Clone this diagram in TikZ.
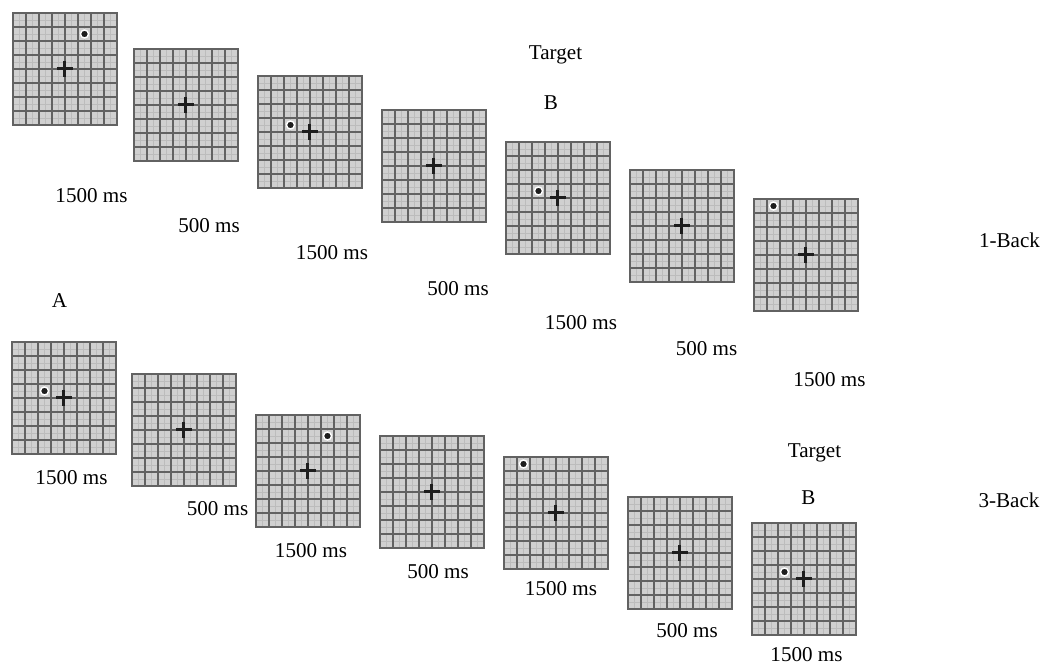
\documentclass[tikz,border=0pt]{standalone}
\usepackage{fontspec}
\setmainfont{Liberation Serif}
\usepackage{tikz}
\definecolor{clrPanel}{RGB}{208,208,208}
\definecolor{clrGrid}{RGB}{98,98,98}
\definecolor{clrGridLight}{RGB}{188,188,188}
\definecolor{clrMark}{RGB}{30,30,30}
\tikzset{
  gridminor/.style={draw=clrGridLight,line width=0.02cm},
  gridmajor/.style={draw=clrGrid,line width=0.04cm},
  screen/.style={rectangle,draw=clrGrid,line width=0.04cm,fill=clrPanel,
    minimum width=2.08cm,minimum height=2.24cm,inner sep=0pt,outer sep=0pt,
    anchor=north west},
  fixcross/.style={draw=clrMark,line width=0.06cm},
  stimdot/.style={fill=clrMark,draw=white,line width=0.8pt},
  timing/.style={font=\fontsize{12}{14}\selectfont,anchor=base,inner sep=0pt},
  tag/.style={font=\fontsize{12}{14}\selectfont,anchor=base,inner sep=0pt}
}

\begin{document}
\begin{tikzpicture}[x=0.02cm,y=-0.02cm]
  \useasboundingbox (0,0) rectangle (1042,663);

  % 1-back sequence (top) and 3-back sequence (bottom), 8x8 grid screens
  \foreach \nm/\lx/\ty in {
      oneA/13/13, oneB/134/49, oneC/258/76, oneD/382/110,
      oneE/506/142, oneF/630/170, oneG/754/199,
      threeA/12/342, threeB/132/374, threeC/256/415, threeD/380/436,
      threeE/504/457, threeF/628/497, threeG/752/523}{
    \node[screen] (\nm) at (\lx,\ty) {};
    \foreach \k in {0,...,7}{
      \draw[gridminor] (\nm.north west) ++(13*\k+6.5,0) -- ++(0,112);
      \draw[gridminor] (\nm.north west) ++(0,14*\k+7.5) -- ++(104,0);
    }
    \foreach \k in {1,...,7}{
      \draw[gridmajor] (\nm.north west) ++(13*\k,0) -- ++(0,112);
      \draw[gridmajor] (\nm.north west) ++(0,14*\k) -- ++(104,0);
    }
    \draw[gridmajor] (\nm.north west) rectangle (\nm.south east);
    \draw[fixcross] (\nm.center) ++(-8,0) -- ++(16,0);
    \draw[fixcross] (\nm.center) ++(0,-8) -- ++(0,16);
  }

  % stimulus dots
  \filldraw[stimdot] ([shift={(19.5,-35)}]oneA.center) circle (4);
  \filldraw[stimdot] ([shift={(-19.5,-7)}]oneC.center) circle (4);
  \filldraw[stimdot] ([shift={(-19.5,-7)}]oneE.center) circle (4);
  \filldraw[stimdot] ([shift={(-32.5,-49)}]oneG.center) circle (4);
  \filldraw[stimdot] ([shift={(-19.5,-7)}]threeA.center) circle (4);
  \filldraw[stimdot] ([shift={(19.5,-35)}]threeC.center) circle (4);
  \filldraw[stimdot] ([shift={(-32.5,-49)}]threeE.center) circle (4);
  \filldraw[stimdot] ([shift={(-19.5,-7)}]threeG.center) circle (4);

  % durations
  \node[timing] (tA1) at (91.5,202) {1500 ms};
  \node[timing] (tB1) at (209,232) {500 ms};
  \node[timing] (tC1) at (332,259) {1500 ms};
  \node[timing] (tD1) at (458,295) {500 ms};
  \node[timing] (tE1) at (581,329) {1500 ms};
  \node[timing] (tF1) at (706.5,355) {500 ms};
  \node[timing] (tG1) at (829.5,386) {1500 ms};

  \node[timing] (tA3) at (71.5,484) {1500 ms};
  \node[timing] (tB3) at (217.5,515) {500 ms};
  \node[timing] (tC3) at (311,557) {1500 ms};
  \node[timing] (tD3) at (438,578) {500 ms};
  \node[timing] (tE3) at (561,595) {1500 ms};
  \node[timing] (tF3) at (687,637) {500 ms};
  \node[timing] (tG3) at (806.5,661) {1500 ms};

  % labels
  \node[tag] (target1) at (555.5,59) {Target};
  \node[tag] (letterB1) at (551,109) {B};
  \node[tag] (target3) at (814.5,457) {Target};
  \node[tag] (letterB3) at (808.5,504) {B};
  \node[tag] (letterA) at (59.5,307) {A};
  \node[tag] (oneback) at (1009.5,247) {1-Back};
  \node[tag] (threeback) at (1009,507) {3-Back};
\end{tikzpicture}
\end{document}
